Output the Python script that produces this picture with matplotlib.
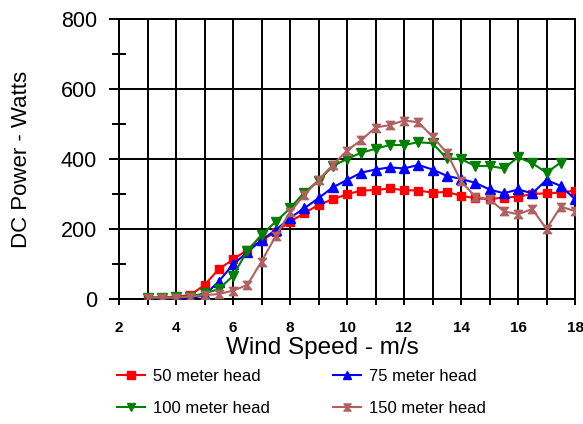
import matplotlib
matplotlib.use("Agg")
import matplotlib.pyplot as plt
from matplotlib.path import Path
from matplotlib.ticker import MultipleLocator

plt.rcParams['font.family'] = ['Liberation Sans', 'DejaVu Sans']

x50 = [3, 3.5, 4, 4.5, 5, 5.5, 6, 6.5, 7, 7.5, 8, 8.5, 9, 9.5, 10, 10.5, 11, 11.5, 12, 12.5,
       13, 13.5, 14, 14.5, 15, 15.5, 16, 16.5, 17, 17.5, 18]
y50 = [4, 4, 7, 11, 40, 85, 113, 140, 167, 192, 221, 245, 269, 285, 299, 310, 311, 316, 311, 310,
       304, 306, 295, 288, 285, 290, 292, 300, 302, 304, 310]

x75 = x50
y75 = [0, 0, 0, 2, 11, 50, 99, 133, 169, 197, 232, 259, 288, 319, 340, 361, 370, 376, 373, 383,
       370, 352, 343, 332, 313, 302, 313, 302, 340, 323, 285]

x100 = x50[:-1]
y100 = [4, 4, 5, 7, 16, 28, 66, 138, 183, 221, 259, 304, 338, 380, 400, 418, 429, 440, 440, 448,
        445, 402, 400, 380, 380, 373, 405, 388, 361, 390]

x150 = x50
y150 = [4, 4, 4, 7, 11, 14, 24, 40, 107, 180, 248, 297, 340, 383, 424, 454, 490, 497, 510, 505,
        464, 418, 337, 292, 285, 251, 242, 257, 200, 264, 251]

labels = ['50 meter head', '75 meter head', '100 meter head', '150 meter head']

hourglass = Path([(-1, 1), (1, 1), (0.15, 0), (1, -1), (-1, -1), (-0.15, 0), (-1, 1)],
                 [Path.MOVETO, Path.LINETO, Path.LINETO, Path.LINETO, Path.LINETO,
                  Path.LINETO, Path.CLOSEPOLY])

fig = plt.figure(figsize=(5.83, 4.24), dpi=100)
ax = fig.add_axes([119/583, 1 - 299/424, (575-119)/583, (299-19)/424])

ax.set_xlim(2, 18)
ax.set_ylim(0, 800)

lw = 1.5
h50, = ax.plot(x50, y50, color='#FF0000', marker='s', ms=6, lw=lw, label=labels[0], zorder=5)
h75, = ax.plot(x75, y75, color='#0000FF', marker='^', ms=7, lw=lw, label=labels[1], zorder=5)
h100, = ax.plot(x100, y100, color='#008000', marker='v', ms=7, lw=lw, label=labels[2], zorder=5)
h150, = ax.plot(x150, y150, color='#B06060', marker=hourglass, ms=6, lw=lw, label=labels[3], zorder=5)

ax.xaxis.set_major_locator(MultipleLocator(2))
ax.xaxis.set_minor_locator(MultipleLocator(1))
ax.yaxis.set_major_locator(MultipleLocator(200))
ax.yaxis.set_minor_locator(MultipleLocator(100))

ax.grid(True, which='major', axis='y', color='black', lw=1.4)
ax.grid(True, which='both', axis='x', color='black', lw=1.4)

for s in ax.spines.values():
    s.set_linewidth(1.4)
    s.set_color('black')

ax.tick_params(axis='y', which='major', direction='out', length=7, width=1.4, labelsize=15.5, pad=9)
ax.tick_params(axis='y', which='minor', direction='inout', length=10, width=1.4)
ax.tick_params(axis='x', which='both', direction='out', length=4, width=1.4, labelsize=11, pad=12)
for lab in ax.get_xticklabels():
    lab.set_fontweight('bold')

ax.set_xlabel('Wind Speed - m/s', fontsize=17.5, labelpad=2)
ax.xaxis.set_label_coords((322-119)/456, -(348-299)/280, transform=ax.transAxes)
ax.xaxis.label.set_va('center')
ax.set_ylabel('DC Power - Watts', fontsize=16, labelpad=14)
ax.yaxis.set_label_coords(-(119-22)/456, 0.5, transform=ax.transAxes)
ax.yaxis.label.set_va('center')

fig.legend([h50, h100, h75, h150], [labels[0], labels[2], labels[1], labels[3]],
           loc='upper left', bbox_to_anchor=(117/583, 1 - 369/424), ncol=2,
           frameon=False, fontsize=12, handlelength=1.7, handletextpad=0.45,
           columnspacing=3.8, labelspacing=1.0, markerscale=0.85,
           borderpad=0, borderaxespad=0)

fig.savefig('out.png', dpi=100)
